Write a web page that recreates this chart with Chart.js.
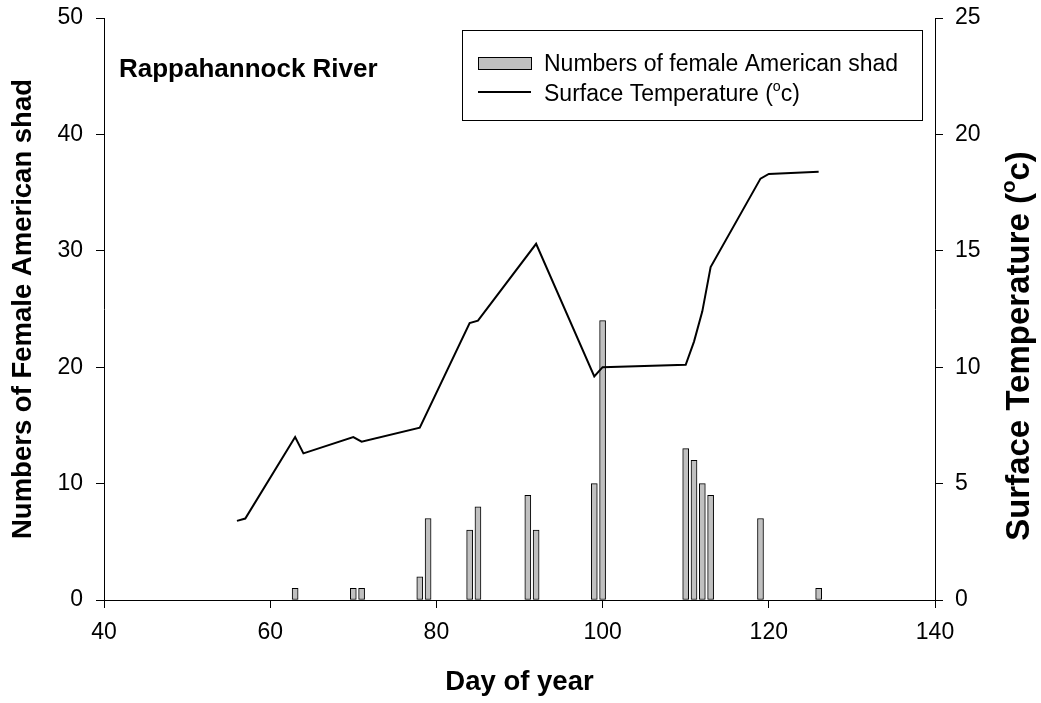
<!DOCTYPE html>
<html>
<head>
<meta charset="utf-8">
<title>Rappahannock River</title>
<script src="https://cdn.jsdelivr.net/npm/chart.js@4/dist/chart.umd.min.js"></script>
<style>
  html, body { margin: 0; padding: 0; background: #fff; }
  canvas { display: block; }
</style>
</head>
<body>
<canvas id="grafico" width="1041" height="703"></canvas>
<script>
// dados: fêmeas de sável por dia do ano e temperatura da superfície
const shadDays = [63, 70, 71, 78, 79, 84, 85, 91, 92, 99, 100, 110, 111, 112, 113, 119, 126];
const shadCounts = [1, 1, 1, 2, 7, 6, 8, 9, 6, 10, 24, 13, 12, 10, 9, 7, 1];
const tempDays = [56, 57, 63, 64, 70, 71, 78, 84, 85, 92, 99, 100, 110, 111, 112, 113, 119, 120, 126];
const tempValues = [3.4, 3.5, 7.0, 6.3, 7.0, 6.8, 7.4, 11.9, 12.0, 15.3, 9.6, 10.0, 10.1, 11.1, 12.4, 14.3, 18.1, 18.3, 18.4];

const chartTitle = 'Rappahannock River';
const xTitle = 'Day of year';
const yTitle = 'Numbers of Female American shad';
const barLabel = 'Numbers of female American shad';
const lineLabel = 'Surface Temperature (';   // + "o" sobrescrito + "c)"

const FONT = "'Liberation Sans', Arial, sans-serif";
const BAR_FILL = '#c0c0c0';

Chart.defaults.font.family = FONT;
Chart.defaults.color = '#000';

// escreve "texto (" + o sobrescrito + "c)" a partir de x na linha de base
function drawDegreeText(ctx, text, x, y, size, weight) {
    ctx.font = `${weight} ${size}px ${FONT}`;
    ctx.fillText(text, x, y);
    x += ctx.measureText(text).width;
    ctx.font = `${weight} ${size * 0.62}px ${FONT}`;
    ctx.fillText('o', x, y - size * 0.42);
    x += ctx.measureText('o').width;
    ctx.font = `${weight} ${size}px ${FONT}`;
    ctx.fillText('c)', x, y);
}

function degreeTextWidth(ctx, text, size, weight) {
    ctx.font = `${weight} ${size}px ${FONT}`;
    let w = ctx.measureText(text).width + ctx.measureText('c)').width;
    ctx.font = `${weight} ${size * 0.62}px ${FONT}`;
    return w + ctx.measureText('o').width;
}

// título interno, legenda e título do eixo direito
const extras = {
    id: 'extras',
    afterDraw(chart) {
        const ctx = chart.ctx;
        ctx.save();
        ctx.fillStyle = '#000';
        ctx.textAlign = 'left';
        ctx.textBaseline = 'alphabetic';

        ctx.font = `bold 26px ${FONT}`;
        ctx.fillText(chartTitle, 119, 77);

        // caixa da legenda
        ctx.strokeStyle = '#000';
        ctx.lineWidth = 1;
        ctx.strokeRect(462.5, 30.5, 460, 90);

        ctx.fillStyle = BAR_FILL;
        ctx.fillRect(478.5, 57.5, 53, 12);
        ctx.strokeRect(478.5, 57.5, 53, 12);

        ctx.lineWidth = 2;
        ctx.beginPath();
        ctx.moveTo(478, 92);
        ctx.lineTo(531, 92);
        ctx.stroke();

        ctx.fillStyle = '#000';
        ctx.font = `23px ${FONT}`;
        ctx.fillText(barLabel, 544, 71);
        drawDegreeText(ctx, lineLabel, 544, 100.5, 23, 'normal');

        // título do eixo direito, lido de baixo para cima
        const size = 33;
        const w = degreeTextWidth(ctx, lineLabel, size, 'bold');
        ctx.translate(1029, 346);
        ctx.rotate(-Math.PI / 2);
        drawDegreeText(ctx, lineLabel, -w / 2, 0, size, 'bold');
        ctx.restore();
    }
};

const tickFont = { size: 23 };
const titleFont = { size: 27.5, weight: 'bold' };

// larguras fixas dos eixos e sem folga extra acima/abaixo dos rótulos
function fixWidth(w) {
    return scale => {
        scale.width = w;
        scale.paddingTop = 0;
        scale.paddingBottom = 0;
    };
}

new Chart(document.getElementById('grafico'), {
    type: 'bar',
    data: {
        datasets: [{
            type: 'line',
            label: lineLabel,
            data: tempDays.map((d, i) => ({ x: d, y: tempValues[i] })),
            yAxisID: 'y2',
            borderColor: '#000',
            borderWidth: 2,
            pointRadius: 0,
            tension: 0,
            fill: false,
            order: 1
        }, {
            label: barLabel,
            data: shadDays.map((d, i) => ({ x: d, y: shadCounts[i] })),
            yAxisID: 'y',
            backgroundColor: BAR_FILL,
            borderColor: '#000',
            borderWidth: 1,
            borderSkipped: false,
            barThickness: 6,
            order: 2
        }]
    },
    options: {
        responsive: false,
        animation: false,
        layout: { padding: { top: 18, left: 0, right: 0, bottom: 0 } },
        plugins: {
            legend: { display: false },
            tooltip: { enabled: false }
        },
        scales: {
            x: {
                type: 'linear',
                position: 'bottom',
                min: 40,
                max: 140,
                offset: false,
                grid: { offset: false, drawOnChartArea: false, color: '#000', tickLength: 8 },
                border: { color: '#000', width: 1 },
                ticks: { stepSize: 20, font: tickFont, padding: 11, maxRotation: 0 },
                title: { display: true, text: xTitle, font: titleFont, padding: { top: 0, bottom: 4 } },
                afterFit(scale) { scale.height = 103; }
            },
            y: {
                position: 'left',
                min: 0,
                max: 50,
                grid: { drawOnChartArea: false, color: '#000', tickLength: 8 },
                border: { color: '#000', width: 1 },
                ticks: { stepSize: 10, font: tickFont, padding: 13 },
                title: { display: true, text: yTitle, font: titleFont, padding: { top: 7, bottom: 0 } },
                afterFit: fixWidth(104)
            },
            y2: {
                position: 'right',
                min: 0,
                max: 25,
                grid: { drawOnChartArea: false, color: '#000', tickLength: 8 },
                border: { color: '#000', width: 1 },
                ticks: { stepSize: 5, font: tickFont, padding: 12 },
                afterFit: fixWidth(106)
            }
        }
    },
    plugins: [extras]
});
</script>
</body>
</html>
